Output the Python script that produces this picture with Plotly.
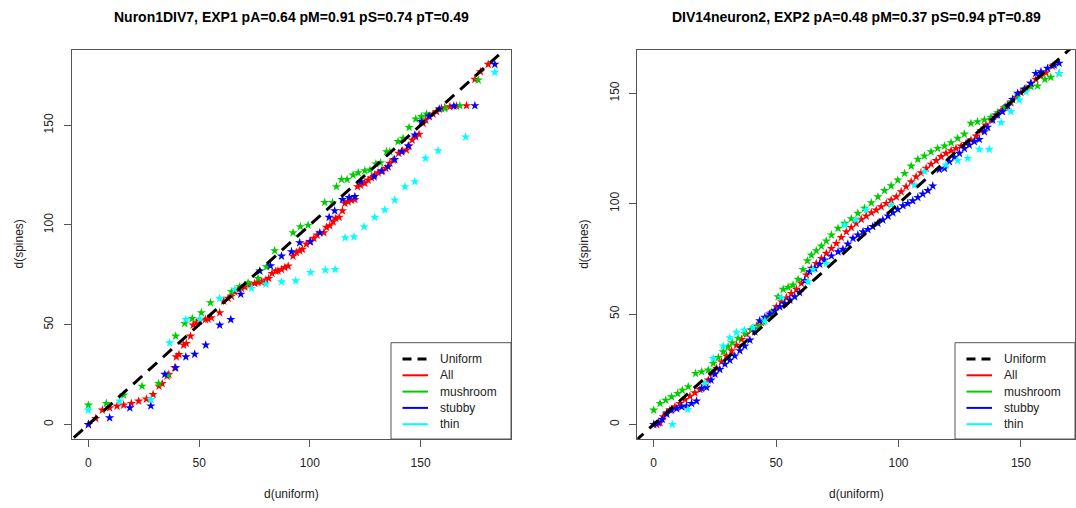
import plotly.graph_objects as go

W, H = 1076, 508

titles = [
    "Nuron1DIV7, EXP1 pA=0.64 pM=0.91 pS=0.74 pT=0.49",
    "DIV14neuron2, EXP2 pA=0.48 pM=0.37 pS=0.94 pT=0.89",
]
series_names = ["All", "mushroom", "stubby", "thin"]
series_colors = ["#FF0000", "#00CD00", "#0000FF", "#00FFFF"]
tick_vals = [0, 50, 100, 150]

# ---- left panel (EXP1) ----
x1_all = [0, 3.3, 6.3, 9.6, 12.9, 15.9, 19.4, 22.7, 26.2, 29.2,
          31.9, 33.3, 35.5, 36.3, 39.0, 39.7, 40.9, 43.0, 44.2, 46.1,
          47.3, 48.8, 50.0, 52.8, 54.0, 55.5, 59.3, 61.1, 63.1, 64.6,
          66.1, 67.6, 69.1, 70.6, 72.9, 75.1, 76.6, 78.1, 80.1, 81.4,
          82.9, 84.6, 85.6, 87.2, 88.7, 90.2, 92.4, 93.9, 95.4, 96.6,
          98.4, 99.9, 101.8, 103.3, 106.3, 107.5, 109.0, 110.5, 111.7, 113.2,
          114.7, 115.8, 117.3, 118.8, 120.3, 121.5, 122.8, 124.8, 126.3, 127.8,
          129.3, 130.8, 132.8, 134.3, 136.1, 137.6, 140.1, 141.8, 143.6, 144.8,
          146.2, 147.8, 149.3, 151.1, 152.3, 153.8, 155.6, 157.2, 159.4, 160.9,
          163.2, 166.2, 170.7, 174.5, 177.0, 180.5]
y1_all = [0, 3.0, 7.2, 8.3, 9.2, 9.7, 10.5, 11.7, 12.7, 15.0,
          19.2, 20.5, 24.2, 25.1, 28.4, 33.9, 35.1, 39.8, 40.6, 44.3,
          49.8, 51.0, 51.8, 52.6, 52.8, 53.5, 56.0, 61.8, 63.2, 64.3,
          66.5, 67.7, 68.2, 69.0, 69.9, 70.7, 71.2, 71.5, 72.4, 73.2,
          75.7, 76.9, 77.0, 77.7, 78.7, 79.4, 84.4, 86.2, 87.1, 87.8,
          90.4, 91.6, 93.3, 95.0, 96.1, 98.8, 99.6, 101.6, 103.3, 103.8,
          107.1, 110.8, 111.6, 112.5, 112.8, 119.2, 120.0, 120.9, 122.5, 123.7,
          125.0, 126.2, 127.0, 128.4, 130.9, 132.6, 135.9, 137.1, 137.6, 139.6,
          142.6, 144.2, 145.4, 150.9, 152.6, 154.3, 155.6, 156.8, 158.4, 158.8,
          159.3, 159.6, 159.8, 173.0, 176.8, 180.5]

x1_mush = [0, 8.1, 15.9, 24.2, 31.7, 35.9, 39.4, 43.5, 46.9, 51.0,
           55.1, 64.6, 68.3, 72.1, 76.6, 80.4, 84.1, 92.4, 95.7, 99.2,
           106.7, 110.2, 112.0, 114.3, 116.8, 119.5, 121.8, 124.8, 127.1, 129.8,
           131.9, 134.6, 136.1, 139.8, 142.1, 144.8, 147.8, 150.4, 152.7, 160.9,
           167.7, 176.0]
y1_mush = [9.7, 10.5, 14.7, 19.2, 20.5, 24.7, 44.3, 50.6, 53.1, 56.0,
           61.0, 66.5, 69.0, 71.0, 73.2, 79.0, 87.1, 96.1, 99.1, 99.9,
           111.3, 111.3, 119.2, 122.8, 122.8, 125.0, 126.2, 127.2, 127.6, 130.6,
           131.2, 136.7, 136.7, 141.8, 143.4, 148.9, 153.1, 154.3, 155.6, 158.4,
           159.8, 172.7]

x1_stub = [0, 9.6, 18.7, 28.2, 34.5, 39.4, 44.0, 48.0, 53.0, 59.3,
           64.3, 68.8, 77.4, 82.2, 87.2, 91.7, 95.4, 100.3, 104.5, 108.7,
           111.2, 114.7, 117.7, 120.3, 123.0, 129.0, 132.3, 135.3, 138.3, 141.4,
           144.4, 147.4, 150.4, 153.8, 158.4, 165.0, 174.5, 183.5]
y1_stub = [0, 3.3, 8.3, 9.3, 25.1, 28.4, 33.9, 35.2, 39.8, 49.8,
           52.6, 65.3, 76.9, 79.5, 84.4, 86.6, 91.1, 91.6, 96.1, 103.8,
           107.1, 112.8, 113.8, 114.2, 121.7, 124.2, 127.0, 129.2, 132.8, 136.7,
           139.6, 145.1, 151.8, 154.6, 158.1, 159.6, 159.8, 180.5]

x1_thin = [0, 14.1, 28.2, 36.7, 44.0, 50.3, 59.3, 66.1, 73.6, 80.1,
           87.2, 93.6, 100.3, 107.0, 111.4, 115.9, 119.9, 124.5, 129.3, 133.8,
           138.3, 142.9, 147.4, 152.2, 157.9, 170.3, 183.5]
y1_thin = [7.2, 11.7, 12.5, 40.9, 52.6, 52.8, 63.2, 67.7, 68.2, 70.4,
           71.5, 72.0, 76.2, 77.4, 77.7, 93.6, 94.1, 99.1, 103.8, 107.6,
           112.5, 119.2, 121.7, 133.4, 137.2, 144.1, 176.5]

# ---- right panel (EXP2) ----
x2_all = [1.2, 2.6, 3.9, 5.3, 6.6, 8.7, 10.7, 12.8, 14.8, 16.8,
          18.9, 20.9, 22.3, 23.9, 25.7, 27.7, 29.7, 31.8, 33.8, 35.9,
          37.9, 39.9, 42.0, 44.0, 46.1, 48.1, 50.1, 52.2, 54.2, 56.2,
          58.3, 60.3, 62.4, 64.4, 66.4, 68.5, 70.5, 72.6, 74.6, 76.6,
          78.7, 80.7, 82.7, 84.8, 86.8, 88.9, 90.9, 92.9, 95.0, 97.0,
          99.1, 101.1, 103.1, 105.2, 107.2, 109.2, 111.3, 113.3, 115.4, 117.4,
          119.4, 121.5, 123.5, 125.6, 127.6, 129.6, 131.7, 133.7, 135.7, 137.8,
          139.8, 141.9, 143.9, 145.9, 148.0, 150.0, 152.1, 154.1, 156.1, 158.2,
          160.2, 162.9]
y2_all = [0, 0.7, 3.5, 5.3, 6.5, 8.0, 9.5, 11.3, 12.8, 14.3,
          15.8, 17.4, 20.1, 23.1, 25.4, 28.4, 31.0, 33.4, 35.9, 38.5,
          40.9, 42.7, 44.5, 46.1, 48.0, 50.6, 53.3, 55.6, 57.5, 59.3,
          61.2, 63.9, 67.7, 70.7, 72.9, 75.2, 77.5, 79.7, 82.0, 84.7,
          87.3, 89.2, 91.1, 92.9, 94.4, 95.9, 97.1, 98.6, 100.1, 101.6,
          103.1, 105.4, 107.7, 109.9, 112.2, 114.0, 116.0, 117.9, 119.5, 121.3,
          122.8, 124.0, 125.0, 126.1, 127.3, 128.8, 130.6, 133.0, 135.6, 137.9,
          140.1, 142.1, 143.9, 145.7, 148.2, 150.3, 152.2, 154.5, 156.3, 157.8,
          159.3, 162.3]

x2_mush = [0, 2.6, 4.9, 7.3, 9.8, 11.7, 14.1, 17.1, 19.6, 22.3,
           24.3, 26.4, 28.4, 30.4, 32.1, 34.5, 37.2, 39.9, 42.7, 44.7,
           46.7, 48.8, 50.8, 52.9, 54.9, 56.9, 59.0, 61.0, 62.8, 64.4,
           66.4, 68.5, 70.5, 72.6, 75.3, 78.0, 80.7, 83.4, 86.1, 88.9,
           91.6, 94.3, 97.0, 99.7, 102.5, 105.2, 107.9, 110.6, 113.3, 116.0,
           118.8, 121.5, 124.2, 126.9, 129.6, 132.3, 135.1, 137.8, 140.5, 143.2,
           145.9, 148.7, 151.4, 154.1, 156.8, 159.8, 162.2, 165.6]
y2_mush = [6.5, 9.5, 11.0, 12.5, 14.0, 15.5, 17.1, 23.1, 23.9, 24.6,
           27.6, 30.3, 32.9, 35.2, 37.0, 39.0, 41.2, 43.0, 44.5, 46.5,
           48.5, 51.0, 57.8, 61.2, 62.1, 63.1, 65.7, 70.2, 74.1, 76.7,
           78.7, 80.8, 83.1, 85.8, 88.8, 91.1, 93.2, 95.6, 97.9, 100.4,
           103.1, 105.9, 108.1, 110.7, 113.7, 117.0, 120.1, 121.6, 123.5, 125.0,
           126.1, 127.6, 129.6, 131.5, 136.4, 137.1, 137.9, 139.1, 141.2, 143.6,
           146.2, 149.2, 151.8, 153.0, 153.3, 156.3, 157.2, 159.0]

x2_stub = [0, 1.9, 3.5, 5.3, 7.3, 9.4, 11.4, 13.4, 15.5, 17.5,
           19.6, 21.6, 23.4, 25.0, 27.0, 29.1, 31.1, 33.1, 35.2, 37.2,
           39.3, 41.3, 43.3, 45.4, 47.4, 49.5, 51.5, 53.5, 55.6, 57.6,
           59.6, 61.7, 63.7, 65.8, 67.8, 69.8, 72.6, 75.3, 77.3, 79.3,
           81.4, 83.4, 85.5, 87.5, 89.5, 91.6, 93.6, 95.7, 97.7, 99.7,
           101.8, 103.8, 105.8, 107.9, 109.9, 112.0, 114.0, 116.7, 118.8, 120.8,
           122.8, 124.9, 126.9, 128.9, 131.0, 133.0, 135.1, 136.4, 138.5, 140.5,
           142.5, 144.6, 146.6, 148.7, 151.4, 154.1, 156.1, 158.2, 160.9, 163.6,
           165.6]
y2_stub = [0, 0.7, 2.3, 4.7, 6.5, 7.2, 8.0, 8.3, 9.5, 10.6,
           16.3, 16.8, 20.1, 22.8, 24.9, 27.3, 29.1, 31.0, 33.4, 35.5,
           38.2, 42.0, 47.0, 48.5, 50.0, 51.5, 53.3, 54.8, 56.3, 57.8,
           59.7, 65.1, 69.2, 70.7, 72.6, 74.5, 76.3, 78.2, 79.3, 81.7,
           84.3, 85.8, 87.3, 88.3, 89.6, 91.1, 92.6, 94.4, 95.9, 97.4,
           99.1, 100.1, 101.3, 102.8, 104.4, 105.9, 108.0, 115.5, 116.0, 119.0,
           121.0, 122.8, 125.0, 126.6, 128.1, 129.1, 132.6, 134.6, 137.9, 140.1,
           141.7, 144.2, 147.2, 150.0, 151.8, 154.5, 159.0, 159.8, 161.3, 162.8,
           163.6]

x2_thin = [7.6, 13.9, 20.9, 24.3, 28.4, 31.1, 33.8, 37.0, 40.6, 45.4,
           52.2, 63.0, 65.1, 70.5, 78.0, 82.7, 86.8, 97.0, 106.5, 110.6,
           119.4, 124.2, 128.3, 133.0, 137.1, 141.9, 145.9, 149.3, 152.1, 165.6]
y2_thin = [0, 6.8, 18.6, 29.9, 35.5, 39.3, 41.7, 42.7, 43.9, 47.0,
           57.5, 64.6, 70.2, 72.9, 90.3, 92.6, 97.1, 99.4, 108.4, 114.5,
           117.5, 119.5, 120.5, 124.6, 124.6, 136.7, 141.7, 146.9, 150.7, 159.0]

panels = [
    dict(xs=[x1_all, x1_mush, x1_stub, x1_thin], ys=[y1_all, y1_mush, y1_stub, y1_thin],
         xrange=[-7.4, 190.8], yrange=[-7.3, 187.7], box=(72, 511)),
    dict(xs=[x2_all, x2_mush, x2_stub, x2_thin], ys=[y2_all, y2_mush, y2_stub, y2_thin],
         xrange=[-6.7, 172.1], yrange=[-6.6, 169.6], box=(637.3, 1075)),
]
BOX_TOP, BOX_BOTTOM = 50, 439


def px(v):
    return v / W


def py(v):
    return 1 - v / H


fig = go.Figure()
annotations = []
shapes = []
font = "Liberation Sans, Arial, sans-serif"


def label(text, x, y, size=12, **kw):
    d = dict(text=text, x=px(x), y=py(y), xref="paper", yref="paper",
             xanchor="center", yanchor="middle", showarrow=False,
             font=dict(size=size, color="#222"))
    d.update(kw)
    annotations.append(d)


for i, p in enumerate(panels):
    sfx = "" if i == 0 else str(i + 1)
    xa, ya = "x" + sfx, "y" + sfx
    for xs, ys, name, col in zip(p["xs"], p["ys"], series_names, series_colors):
        if len(xs) != len(ys):
            raise ValueError(f"length mismatch in {name} panel {i}")
        fig.add_trace(go.Scatter(
            x=xs, y=ys, mode="markers", name=name, showlegend=False,
            marker=dict(symbol="star", size=7, color=col, line=dict(width=0)),
            xaxis=xa, yaxis=ya,
        ))
    # identity line (uniform reference)
    lo, hi = -20, 250
    fig.add_trace(go.Scatter(
        x=[lo, hi], y=[lo, hi], mode="lines", showlegend=False,
        line=dict(color="black", width=3, dash="12px,8px"),
        xaxis=xa, yaxis=ya,
    ))

    left, right = p["box"]
    axis_common = dict(
        showgrid=False, zeroline=False, showline=True, mirror=True,
        linecolor="#555", linewidth=1, ticks="outside", ticklen=7,
        tickcolor="#555", tickvals=tick_vals, tickfont=dict(size=12, color="#222"),
    )
    fig.update_layout(**{
        "xaxis" + sfx: dict(domain=[px(left), px(right)], range=p["xrange"],
                            anchor=ya, ticklabelstandoff=6, **axis_common),
        "yaxis" + sfx: dict(domain=[py(BOX_BOTTOM), py(BOX_TOP)], range=p["yrange"],
                            anchor=xa, tickangle=-90, ticklabelstandoff=6, **axis_common),
    })

    cx = (left + right) / 2
    label(titles[i], cx, 17, size=14, font=dict(size=14, color="black", weight="bold"))
    label("d(uniform)", cx, 494)
    label("d(spines)", left - 54, (BOX_TOP + BOX_BOTTOM) / 2, textangle=-90)

    # legend box in bottom-right corner
    lx0 = right - 120
    shapes.append(dict(type="rect", xref="paper", yref="paper",
                       x0=px(lx0), x1=px(right), y0=py(BOX_BOTTOM), y1=py(342.7),
                       line=dict(color="#555", width=1), fillcolor="white"))
    leg_items = [("Uniform", "black", "dash")] + [(n, c, "solid") for n, c in zip(series_names, series_colors)]
    for k, (lab, col, dash) in enumerate(leg_items):
        ry = 359 + k * 16.3
        shapes.append(dict(type="line", xref="paper", yref="paper",
                           x0=px(lx0 + 11.5), x1=px(lx0 + 37), y0=py(ry), y1=py(ry),
                           line=dict(color=col, width=3 if dash == "dash" else 2,
                                     dash="9px,6px" if dash == "dash" else "solid")))
        label(lab, lx0 + 47, ry, xanchor="left")

fig.update_layout(
    width=W, height=H, margin=dict(l=0, r=0, t=0, b=0),
    plot_bgcolor="white", paper_bgcolor="white",
    font=dict(family=font), annotations=annotations, shapes=shapes,
    showlegend=False,
)

fig.write_html("out.html", config={"displayModeBar": False},
               post_script="document.body.style.margin='0';")
